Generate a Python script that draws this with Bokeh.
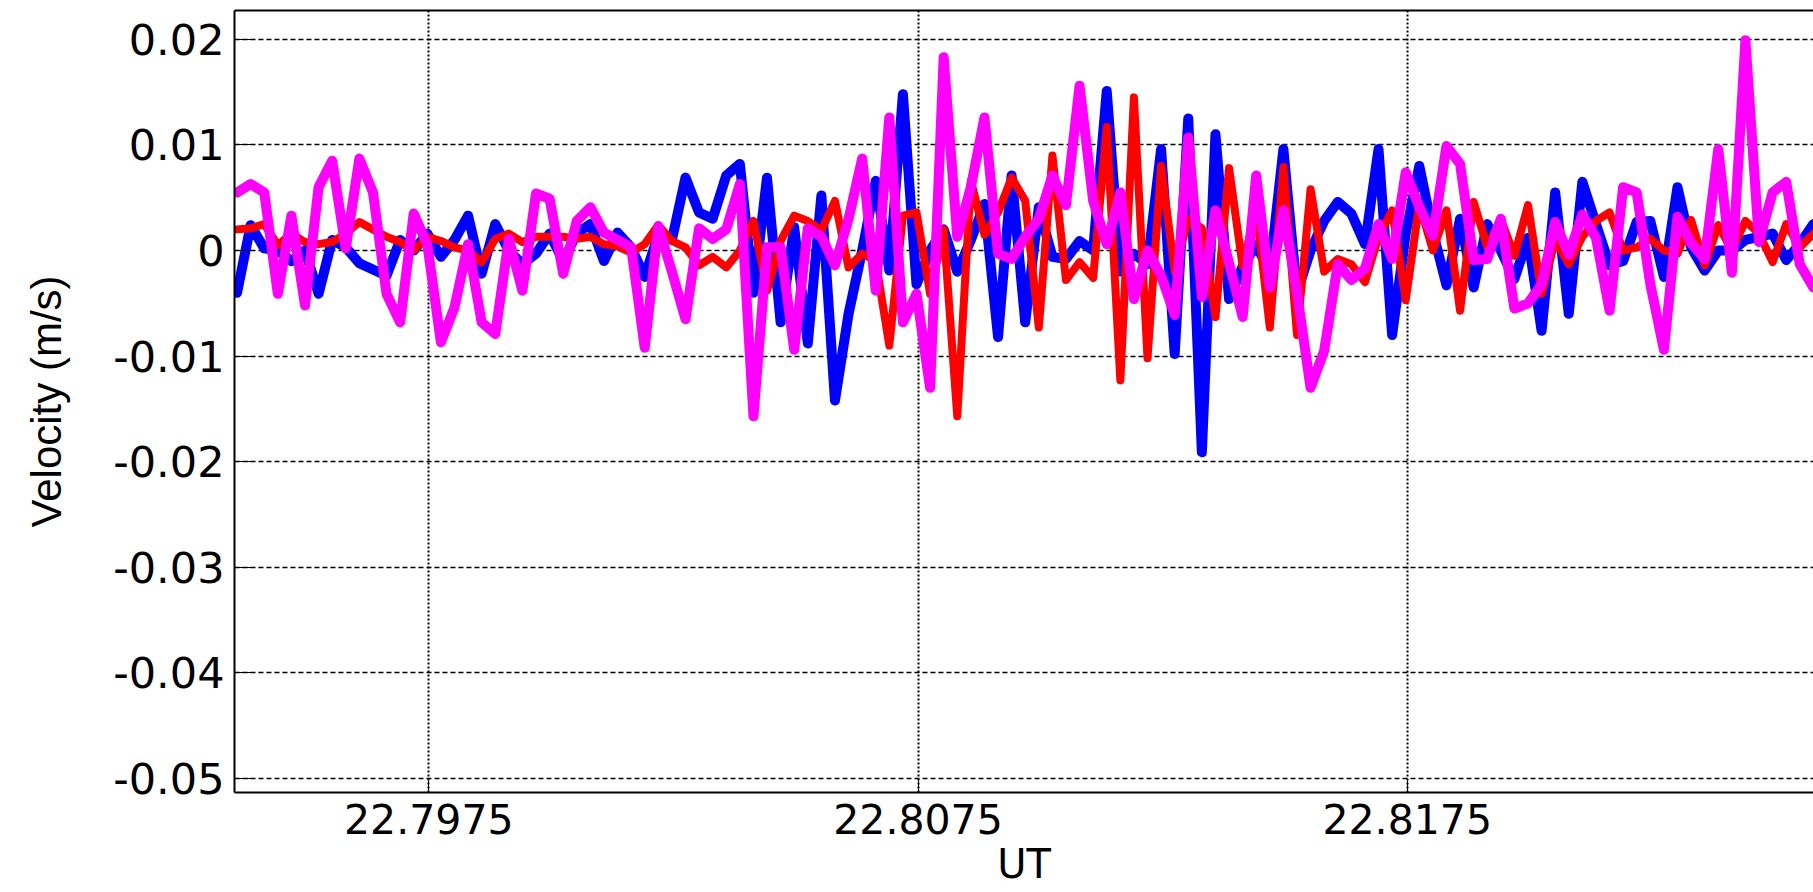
from bokeh.plotting import figure
from bokeh.models import FixedTicker, LinearAxis, Range1d
from bokeh.embed import file_html
from bokeh.resources import INLINE

# UT (hours), 1-s samples
ut = [
    22.793580, 22.793858, 22.794136, 22.794413, 22.794691, 22.794969, 22.795247, 22.795524, 22.795802, 22.796080,
    22.796358, 22.796636, 22.796913, 22.797191, 22.797469, 22.797747, 22.798024, 22.798302, 22.798580, 22.798858,
    22.799136, 22.799413, 22.799691, 22.799969, 22.800247, 22.800524, 22.800802, 22.801080, 22.801358, 22.801636,
    22.801913, 22.802191, 22.802469, 22.802747, 22.803024, 22.803302, 22.803580, 22.803858, 22.804136, 22.804413,
    22.804691, 22.804969, 22.805247, 22.805524, 22.805802, 22.806080, 22.806358, 22.806636, 22.806913, 22.807191,
    22.807469, 22.807747, 22.808024, 22.808302, 22.808580, 22.808858, 22.809136, 22.809413, 22.809691, 22.809969,
    22.810247, 22.810524, 22.810802, 22.811080, 22.811358, 22.811636, 22.811913, 22.812191, 22.812469, 22.812747,
    22.813024, 22.813302, 22.813580, 22.813858, 22.814136, 22.814413, 22.814691, 22.814969, 22.815247, 22.815524,
    22.815802, 22.816080, 22.816358, 22.816636, 22.816913, 22.817191, 22.817469, 22.817747, 22.818024, 22.818302,
    22.818580, 22.818858, 22.819136, 22.819413, 22.819691, 22.819969, 22.820247, 22.820524, 22.820802, 22.821080,
    22.821358, 22.821636, 22.821913, 22.822191, 22.822469, 22.822747, 22.823024, 22.823302, 22.823580, 22.823858,
    22.824136, 22.824413, 22.824691, 22.824969, 22.825247, 22.825524, 22.825802,
]

v_blue = [
    -0.0040, 0.0024, 0.0002, 0.0000, -0.0010, 0.0000, -0.0041, 0.0010, 0.0003, -0.0012,
    -0.0018, -0.0024, 0.0010, 0.0000, 0.0016, -0.0006, 0.0010, 0.0033, -0.0022, 0.0025,
    0.0000, -0.0013, -0.0003, 0.0016, -0.0010, 0.0016, 0.0025, -0.0010, 0.0017, 0.0003,
    -0.0025, 0.0015, 0.0010, 0.0069, 0.0036, 0.0030, 0.0071, 0.0082, -0.0040, 0.0069,
    -0.0068, 0.0022, -0.0088, 0.0052, -0.0142, -0.0060, 0.0000, 0.0066, -0.0019, 0.0148,
    -0.0032, 0.0000, 0.0020, -0.0020, 0.0010, 0.0044, -0.0082, 0.0071, -0.0068, 0.0041,
    -0.0006, -0.0008, 0.0009, 0.0000, 0.0151, -0.0020, -0.0003, -0.0013, 0.0096, -0.0098,
    0.0125, -0.0191, 0.0110, -0.0046, -0.0015, 0.0005, -0.0020, 0.0096, -0.0040, 0.0000,
    0.0028, 0.0046, 0.0035, 0.0006, 0.0096, -0.0080, 0.0016, 0.0080, 0.0018, -0.0033,
    0.0030, -0.0035, 0.0025, 0.0000, -0.0027, 0.0012, -0.0076, 0.0055, -0.0060, 0.0065,
    0.0025, -0.0014, -0.0010, 0.0027, 0.0028, -0.0025, 0.0060, 0.0003, -0.0019, 0.0000,
    0.0000, 0.0010, 0.0013, 0.0016, -0.0009, 0.0006, 0.0025,
]

v_red = [
    0.0020, 0.0021, 0.0025, 0.0005, 0.0016, 0.0008, 0.0006, 0.0008, 0.0016, 0.0027,
    0.0020, 0.0013, 0.0008, 0.0000, 0.0013, 0.0009, 0.0003, 0.0000, -0.0011, 0.0011,
    0.0016, 0.0008, 0.0013, 0.0013, 0.0013, 0.0011, 0.0013, 0.0006, 0.0004, -0.0002,
    0.0006, 0.0024, 0.0009, 0.0003, -0.0014, -0.0006, -0.0016, 0.0000, 0.0028, -0.0038,
    0.0009, 0.0033, 0.0028, 0.0019, 0.0047, -0.0016, -0.0003, -0.0010, -0.0090, 0.0033,
    0.0036, -0.0041, 0.0020, -0.0157, 0.0066, 0.0015, 0.0036, 0.0069, 0.0047, -0.0073,
    0.0090, -0.0028, -0.0011, -0.0026, 0.0117, -0.0123, 0.0145, -0.0102, 0.0080, -0.0020,
    0.0030, 0.0021, -0.0063, 0.0078, -0.0015, 0.0040, -0.0073, 0.0079, -0.0080, 0.0058,
    -0.0020, -0.0008, -0.0013, -0.0030, 0.0013, 0.0038, -0.0047, 0.0044, 0.0000, 0.0038,
    -0.0057, 0.0046, 0.0003, 0.0030, -0.0005, 0.0043, -0.0041, 0.0010, -0.0013, 0.0013,
    0.0028, 0.0036, 0.0000, 0.0003, 0.0011, 0.0000, -0.0003, 0.0029, -0.0014, 0.0024,
    0.0000, 0.0028, 0.0016, -0.0011, 0.0025, 0.0003, 0.0016,
]

v_magenta = [
    0.0055, 0.0063, 0.0055, -0.0041, 0.0033, -0.0052, 0.0060, 0.0085, 0.0002, 0.0087,
    0.0055, -0.0041, -0.0068, 0.0035, 0.0006, -0.0087, -0.0054, 0.0006, -0.0068, -0.0079,
    0.0011, -0.0038, 0.0054, 0.0049, -0.0022, 0.0028, 0.0041, 0.0017, 0.0010, 0.0003,
    -0.0092, 0.0023, -0.0020, -0.0065, 0.0021, 0.0011, 0.0020, 0.0063, -0.0157, 0.0003,
    0.0003, -0.0094, 0.0021, 0.0013, -0.0014, 0.0030, 0.0087, -0.0038, 0.0126, -0.0068,
    -0.0041, -0.0130, 0.0183, 0.0013, 0.0060, 0.0126, -0.0003, -0.0008, 0.0013, 0.0030,
    0.0071, 0.0043, 0.0156, 0.0047, 0.0006, 0.0055, -0.0046, 0.0000, -0.0024, -0.0061,
    0.0107, -0.0044, 0.0038, -0.0012, -0.0063, 0.0071, -0.0035, 0.0038, -0.0040, -0.0130,
    -0.0095, -0.0013, -0.0028, -0.0017, 0.0025, -0.0008, 0.0074, 0.0041, 0.0014, 0.0099,
    0.0082, -0.0009, -0.0008, 0.0030, -0.0055, -0.0050, -0.0032, 0.0027, -0.0004, 0.0034,
    0.0012, -0.0057, 0.0060, 0.0055, -0.0032, -0.0094, 0.0032, 0.0007, -0.0008, 0.0096,
    -0.0021, 0.0199, 0.0008, 0.0055, 0.0065, -0.0013, -0.0035,
]

x_ticks = [22.7975, 22.8075, 22.8175]
x_tick_labels = ["22.7975", "22.8075", "22.8175"]
y_ticks = [-0.05, -0.04, -0.03, -0.02, -0.01, 0.0, 0.01, 0.02]
y_tick_labels = ["-0.05", "-0.04", "-0.03", "-0.02", "-0.01", "0", "0.01", "0.02"]
x_label = "UT"
y_label = "Velocity (m/s)"

x_lo, x_hi = 22.793528, 22.825805
y_lo, y_hi = -0.051326, 0.022727

p = figure(
    width=1813, height=892, output_backend="svg", toolbar_location=None,
    x_range=Range1d(x_lo, x_hi), y_range=Range1d(y_lo, y_hi),
    min_border_left=234, min_border_right=0, min_border_top=10, min_border_bottom=100,
)
p.outline_line_color = None
p.background_fill_color = "white"
p.border_fill_color = "white"

# grids
p.xgrid.ticker = FixedTicker(ticks=x_ticks)
p.ygrid.ticker = FixedTicker(ticks=y_ticks)
p.xgrid.grid_line_color = "black"
p.xgrid.grid_line_dash = "2 2"
p.xgrid.grid_line_width = 2
p.ygrid.grid_line_color = "black"
p.ygrid.grid_line_dash = "5 3"
p.ygrid.grid_line_width = 1.3

# data
p.line(ut, v_blue, line_color="#0000ff", line_width=10, line_join="round", line_cap="round")
p.line(ut, v_red, line_color="#ff0000", line_width=8, line_join="round", line_cap="round")
p.line(ut, v_magenta, line_color="#ff00ff", line_width=10, line_join="round", line_cap="round")

# x axis
xa = p.xaxis[0]
xa.ticker = FixedTicker(ticks=x_ticks)
xa.major_label_overrides = dict(zip(x_ticks, x_tick_labels))
xa.major_tick_in = 12
xa.major_tick_out = 0
xa.major_tick_line_color = "black"
xa.major_tick_line_width = 1
xa.minor_tick_line_color = None
xa.axis_line_color = "black"
xa.axis_line_width = 2
xa.major_label_text_font = "DejaVu Sans"
xa.major_label_text_font_size = "41px"
xa.major_label_text_color = "black"
xa.major_label_standoff = 11
xa.axis_label = x_label
xa.axis_label_text_font = "DejaVu Sans"
xa.axis_label_text_font_size = "40px"
xa.axis_label_text_font_style = "normal"
xa.axis_label_text_color = "black"
xa.axis_label_standoff = 4

# y axis
ya = p.yaxis[0]
ya.ticker = FixedTicker(ticks=y_ticks)
ya.major_label_overrides = dict(zip(y_ticks, y_tick_labels))
ya.major_tick_in = 18
ya.major_tick_out = 0
ya.major_tick_line_color = "black"
ya.major_tick_line_width = 1
ya.minor_tick_line_color = None
ya.axis_line_color = "black"
ya.axis_line_width = 2
ya.major_label_text_font = "DejaVu Sans"
ya.major_label_text_font_size = "43px"
ya.major_label_text_color = "black"
ya.major_label_standoff = 10
ya.axis_label = y_label
ya.axis_label_text_font = "Liberation Sans"
ya.axis_label_text_font_size = "42px"
ya.axis_label_text_font_style = "normal"
ya.axis_label_text_color = "black"
ya.axis_label_standoff = 40

# top border
top = LinearAxis(
    ticker=FixedTicker(ticks=[]), major_label_text_font_size="0px",
    major_tick_line_color=None, minor_tick_line_color=None,
    axis_line_color="black", axis_line_width=2, major_label_standoff=0,
    major_tick_in=0, major_tick_out=0,
)
p.add_layout(top, "above")

open("out.html", "w").write(file_html(p, INLINE))
